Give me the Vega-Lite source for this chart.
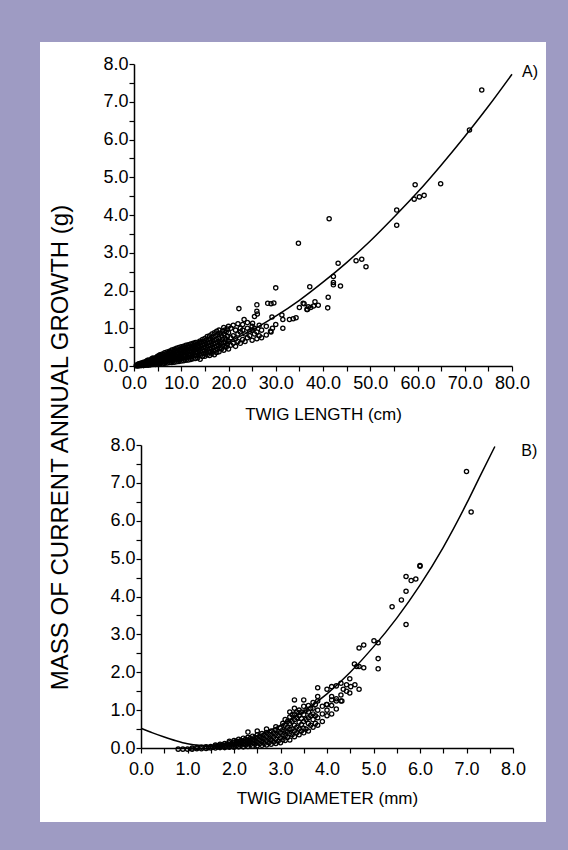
{
"$schema": "https://vega.github.io/schema/vega-lite/v6.json",
"background": "#9e9bc3",
"padding": {"left": 40, "top": 42, "right": 22, "bottom": 28},
"bounds": "flush",
"spacing": 0,
"config": {
 "view": {"fill": "white", "stroke": null},
 "font": "Liberation Sans",
 "axis": {"domainColor": "black", "domainWidth": 1.5, "tickColor": "black", "tickWidth": 1.2, "tickSize": 5, "labelColor": "black", "labelFontSize": 18, "labelFont": "Liberation Sans", "titleColor": "black", "titleFontSize": 17, "titleFont": "Liberation Sans", "titleFontWeight": "normal", "grid": false, "labelOverlap": false, "labelFlush": false}
},
"datasets": {
 "a": [
  {"x":0.5,"y":0},{"x":0.5,"y":0.02},
  {"x":1,"y":0},{"x":1,"y":0.03},{"x":1,"y":0.06},
  {"x":1.5,"y":0.01},{"x":1.5,"y":0.04},{"x":1.5,"y":0.08},
  {"x":2,"y":0.01},{"x":2,"y":0.05},{"x":2,"y":0.1},
  {"x":2.5,"y":0.02},{"x":2.5,"y":0.06},{"x":2.5,"y":0.12},
  {"x":3,"y":0.02},{"x":3,"y":0.07},{"x":3,"y":0.13},{"x":3,"y":0.16},
  {"x":3.5,"y":0.03},{"x":3.5,"y":0.08},{"x":3.5,"y":0.15},
  {"x":4,"y":0.04},{"x":4,"y":0.1},{"x":4,"y":0.17},{"x":4,"y":0.21},
  {"x":4.5,"y":0.04},{"x":4.5,"y":0.11},{"x":4.5,"y":0.19},
  {"x":5,"y":0.05},{"x":5,"y":0.12},{"x":5,"y":0.2},{"x":5,"y":0.26},
  {"x":5.5,"y":0.06},{"x":5.5,"y":0.13},{"x":5.5,"y":0.22},{"x":5.5,"y":0.3},
  {"x":6,"y":0.06},{"x":6,"y":0.15},{"x":6,"y":0.24},{"x":6,"y":0.32},
  {"x":6.5,"y":0.07},{"x":6.5,"y":0.16},{"x":6.5,"y":0.26},{"x":6.5,"y":0.35},
  {"x":7,"y":0.08},{"x":7,"y":0.17},{"x":7,"y":0.27},{"x":7,"y":0.37},
  {"x":7.5,"y":0.09},{"x":7.5,"y":0.19},{"x":7.5,"y":0.29},{"x":7.5,"y":0.39},
  {"x":8,"y":0.09},{"x":8,"y":0.2},{"x":8,"y":0.31},{"x":8,"y":0.42},
  {"x":8.5,"y":0.1},{"x":8.5,"y":0.21},{"x":8.5,"y":0.33},{"x":8.5,"y":0.44},
  {"x":9,"y":0.11},{"x":9,"y":0.23},{"x":9,"y":0.35},{"x":9,"y":0.47},
  {"x":9.5,"y":0.12},{"x":9.5,"y":0.24},{"x":9.5,"y":0.36},{"x":9.5,"y":0.49},
  {"x":10,"y":0.13},{"x":10,"y":0.25},{"x":10,"y":0.38},{"x":10,"y":0.51},
  {"x":10.5,"y":0.14},{"x":10.5,"y":0.27},{"x":10.5,"y":0.4},{"x":10.5,"y":0.52},
  {"x":11,"y":0.15},{"x":11,"y":0.28},{"x":11,"y":0.42},{"x":11,"y":0.55},
  {"x":11.5,"y":0.16},{"x":11.5,"y":0.3},{"x":11.5,"y":0.43},{"x":11.5,"y":0.56},
  {"x":12,"y":0.17},{"x":12,"y":0.31},{"x":12,"y":0.45},{"x":12,"y":0.58},
  {"x":12.5,"y":0.19},{"x":12.5,"y":0.33},{"x":12.5,"y":0.47},{"x":12.5,"y":0.6},
  {"x":13,"y":0.2},{"x":13,"y":0.35},{"x":13,"y":0.49},{"x":13,"y":0.62},
  {"x":13.5,"y":0.22},{"x":13.5,"y":0.36},{"x":13.5,"y":0.5},{"x":13.5,"y":0.63},
  {"x":14,"y":0.18},{"x":14,"y":0.38},{"x":14,"y":0.52},{"x":14,"y":0.66},
  {"x":14.5,"y":0.25},{"x":14.5,"y":0.4},{"x":14.5,"y":0.55},{"x":14.5,"y":0.7},
  {"x":15,"y":0.26},{"x":15,"y":0.41},{"x":15,"y":0.57},{"x":15,"y":0.73},
  {"x":15.5,"y":0.3},{"x":15.5,"y":0.44},{"x":15.5,"y":0.6},{"x":15.5,"y":0.78},
  {"x":16,"y":0.28},{"x":16,"y":0.46},{"x":16,"y":0.62},{"x":16,"y":0.8},
  {"x":16.5,"y":0.33},{"x":16.5,"y":0.48},{"x":16.5,"y":0.65},{"x":16.5,"y":0.85},
  {"x":17,"y":0.3},{"x":17,"y":0.5},{"x":17,"y":0.68},{"x":17,"y":0.88},
  {"x":17.5,"y":0.36},{"x":17.5,"y":0.53},{"x":17.5,"y":0.7},{"x":17.5,"y":0.92},
  {"x":18,"y":0.38},{"x":18,"y":0.55},{"x":18,"y":0.74},{"x":18,"y":0.95},
  {"x":18.5,"y":0.45},{"x":18.5,"y":0.6},{"x":18.5,"y":0.8},
  {"x":19,"y":0.42},{"x":19,"y":0.62},{"x":19,"y":0.85},{"x":19,"y":1.02},
  {"x":19.5,"y":0.5},{"x":19.5,"y":0.7},{"x":19.5,"y":0.9},
  {"x":20,"y":0.45},{"x":20,"y":0.65},{"x":20,"y":0.88},{"x":20,"y":1.05},
  {"x":0.75,"y":0.01},{"x":0.75,"y":0.04},{"x":1.25,"y":0.02},{"x":1.25,"y":0.05},{"x":1.75,"y":0.03},{"x":1.75,"y":0.07},{"x":2.25,"y":0.03},{"x":2.25,"y":0.08},
  {"x":2.75,"y":0.04},{"x":2.75,"y":0.1},{"x":2.75,"y":0.14},{"x":3.25,"y":0.05},{"x":3.25,"y":0.11},
  {"x":3.75,"y":0.06},{"x":3.75,"y":0.13},{"x":3.75,"y":0.19},{"x":4.25,"y":0.07},{"x":4.25,"y":0.14},{"x":4.25,"y":0.2},
  {"x":4.75,"y":0.08},{"x":4.75,"y":0.16},{"x":4.75,"y":0.23},{"x":5.25,"y":0.09},{"x":5.25,"y":0.17},{"x":5.25,"y":0.27},
  {"x":5.75,"y":0.1},{"x":5.75,"y":0.19},{"x":5.75,"y":0.28},{"x":6.25,"y":0.11},{"x":6.25,"y":0.2},{"x":6.25,"y":0.3},
  {"x":6.75,"y":0.12},{"x":6.75,"y":0.22},{"x":6.75,"y":0.32},{"x":7.25,"y":0.13},{"x":7.25,"y":0.23},{"x":7.25,"y":0.33},
  {"x":7.75,"y":0.14},{"x":7.75,"y":0.25},{"x":7.75,"y":0.36},{"x":8.25,"y":0.15},{"x":8.25,"y":0.27},{"x":8.25,"y":0.38},
  {"x":8.75,"y":0.16},{"x":8.75,"y":0.28},{"x":8.75,"y":0.4},{"x":9.25,"y":0.17},{"x":9.25,"y":0.3},{"x":9.25,"y":0.42},
  {"x":9.75,"y":0.18},{"x":9.75,"y":0.31},{"x":9.75,"y":0.44},{"x":10.25,"y":0.2},{"x":10.25,"y":0.33},{"x":10.25,"y":0.46},
  {"x":10.75,"y":0.21},{"x":10.75,"y":0.35},{"x":10.75,"y":0.48},{"x":11.25,"y":0.22},{"x":11.25,"y":0.36},{"x":11.25,"y":0.5},
  {"x":11.75,"y":0.24},{"x":11.75,"y":0.38},{"x":11.75,"y":0.51},{"x":12.25,"y":0.25},{"x":12.25,"y":0.39},{"x":12.25,"y":0.53},
  {"x":12.75,"y":0.27},{"x":12.75,"y":0.41},{"x":12.75,"y":0.55},{"x":13.25,"y":0.28},{"x":13.25,"y":0.43},{"x":13.25,"y":0.57},
  {"x":13.75,"y":0.3},{"x":13.75,"y":0.45},{"x":13.75,"y":0.6},{"x":14.25,"y":0.32},{"x":14.25,"y":0.47},{"x":14.25,"y":0.62},
  {"x":14.75,"y":0.33},{"x":14.75,"y":0.49},{"x":14.75,"y":0.65},{"x":15.25,"y":0.35},{"x":15.25,"y":0.5},{"x":15.25,"y":0.67},
  {"x":15.75,"y":0.37},{"x":15.75,"y":0.53},{"x":15.75,"y":0.7},{"x":16.25,"y":0.38},{"x":16.25,"y":0.55},{"x":16.25,"y":0.72},
  {"x":16.75,"y":0.4},{"x":16.75,"y":0.58},{"x":16.75,"y":0.76},{"x":17.25,"y":0.42},{"x":17.25,"y":0.6},{"x":17.25,"y":0.8},
  {"x":17.75,"y":0.45},{"x":17.75,"y":0.63},{"x":17.75,"y":0.83},{"x":18.25,"y":0.48},{"x":18.25,"y":0.66},{"x":18.25,"y":0.87},
  {"x":18.75,"y":0.52},{"x":18.75,"y":0.7},{"x":18.75,"y":0.92},{"x":19.25,"y":0.55},{"x":19.25,"y":0.74},{"x":19.25,"y":0.95},
  {"x":19.75,"y":0.58},{"x":19.75,"y":0.78},{"x":19.75,"y":0.98},
  {"x":20.5,"y":0.55},{"x":20.5,"y":0.75},{"x":20.5,"y":1.0},
  {"x":21,"y":0.6},{"x":21,"y":0.8},{"x":21,"y":1.08},
  {"x":21.5,"y":0.52},{"x":21.5,"y":0.72},{"x":21.5,"y":0.95},
  {"x":22,"y":0.65},{"x":22,"y":0.85},{"x":22,"y":1.12},
  {"x":22.5,"y":0.6},{"x":22.5,"y":0.9},{"x":22.5,"y":1.0},
  {"x":23,"y":0.7},{"x":23,"y":0.95},{"x":23,"y":1.1},
  {"x":23.5,"y":0.65},{"x":23.5,"y":0.85},
  {"x":24,"y":0.75},{"x":24,"y":1.0},{"x":24,"y":1.15},
  {"x":24.5,"y":0.8},{"x":24.5,"y":0.92},
  {"x":25,"y":0.68},{"x":25,"y":0.95},{"x":25,"y":1.05},
  {"x":25.5,"y":0.85},{"x":25.5,"y":1.0},
  {"x":26,"y":0.72},{"x":26,"y":0.9},
  {"x":26.5,"y":0.8},{"x":26.5,"y":1.08},
  {"x":27,"y":0.75},{"x":27,"y":0.95},
  {"x":28,"y":0.82},{"x":28,"y":1.05},
  {"x":29,"y":0.9},{"x":30,"y":1.1},
  {"x":34.8,"y":3.25},{"x":30.0,"y":2.07},{"x":22.2,"y":1.52},{"x":26.0,"y":1.62},{"x":28.3,"y":1.66},{"x":29.0,"y":1.65},{"x":29.6,"y":1.67},{"x":26.0,"y":1.45},{"x":26.1,"y":1.38},{"x":29.2,"y":1.3},{"x":31.3,"y":1.35},{"x":31.5,"y":1.23},{"x":31.5,"y":1.0},{"x":32.9,"y":1.23},{"x":33.7,"y":1.25},{"x":34.3,"y":1.28},{"x":35.0,"y":1.55},{"x":36.0,"y":1.65},{"x":36.7,"y":1.5},{"x":37.4,"y":1.55},{"x":23.3,"y":1.23},{"x":25.1,"y":1.13},{"x":25.5,"y":1.31},{"x":29.3,"y":1.0},{"x":28.9,"y":0.92},
  {"x":73.6,"y":7.31},{"x":71.0,"y":6.25},{"x":59.5,"y":4.8},{"x":64.9,"y":4.83},{"x":59.3,"y":4.42},{"x":60.4,"y":4.48},{"x":61.4,"y":4.52},{"x":55.6,"y":4.13},{"x":55.6,"y":3.73},{"x":41.3,"y":3.9},{"x":43.2,"y":2.72},{"x":47.0,"y":2.79},{"x":48.2,"y":2.83},{"x":49.1,"y":2.63},{"x":42.2,"y":2.37},{"x":42.2,"y":2.21},{"x":42.2,"y":2.15},{"x":43.7,"y":2.12},{"x":37.2,"y":2.1},{"x":41.1,"y":1.82},{"x":41.0,"y":1.54},{"x":35.8,"y":1.66},{"x":36.9,"y":1.57},{"x":38.0,"y":1.59},{"x":38.3,"y":1.7},{"x":39.0,"y":1.61},{"x":36.6,"y":1.5}
 ],
 "fa": [
  {"x":0,"y":0},{"x":2,"y":0.01},{"x":5,"y":0.05},{"x":10,"y":0.18},{"x":15,"y":0.38},{"x":20,"y":0.64},{"x":25,"y":0.95},{"x":30,"y":1.32},{"x":35,"y":1.74},{"x":40,"y":2.22},{"x":45,"y":2.74},{"x":50,"y":3.31},{"x":55,"y":3.94},{"x":60,"y":4.6},{"x":65,"y":5.32},{"x":70,"y":6.08},{"x":75,"y":6.88},{"x":80,"y":7.73}
 ],
 "b": [
  {"x":0.8,"y":-0.03},{"x":0.9,"y":-0.03},{"x":1.0,"y":-0.03},
  {"x":1.1,"y":-0.03},{"x":1.1,"y":0.0},
  {"x":1.2,"y":-0.02},{"x":1.2,"y":0.01},
  {"x":1.3,"y":-0.02},{"x":1.3,"y":0.02},
  {"x":1.4,"y":-0.01},{"x":1.4,"y":0.03},
  {"x":1.5,"y":0.0},{"x":1.5,"y":0.04},
  {"x":1.6,"y":0.0},{"x":1.6,"y":0.05},{"x":1.6,"y":0.08},
  {"x":1.7,"y":0.01},{"x":1.7,"y":0.06},{"x":1.7,"y":0.1},
  {"x":1.8,"y":0.01},{"x":1.8,"y":0.07},{"x":1.8,"y":0.12},
  {"x":1.9,"y":0.02},{"x":1.9,"y":0.08},{"x":1.9,"y":0.14},{"x":1.9,"y":0.18},
  {"x":2.0,"y":0.02},{"x":2.0,"y":0.09},{"x":2.0,"y":0.15},{"x":2.0,"y":0.2},
  {"x":2.1,"y":0.03},{"x":2.1,"y":0.1},{"x":2.1,"y":0.17},{"x":2.1,"y":0.23},
  {"x":2.2,"y":0.03},{"x":2.2,"y":0.11},{"x":2.2,"y":0.19},{"x":2.2,"y":0.26},
  {"x":2.3,"y":0.04},{"x":2.3,"y":0.12},{"x":2.3,"y":0.2},{"x":2.3,"y":0.28},{"x":2.3,"y":0.42},
  {"x":2.4,"y":0.05},{"x":2.4,"y":0.14},{"x":2.4,"y":0.22},{"x":2.4,"y":0.31},
  {"x":2.5,"y":0.06},{"x":2.5,"y":0.15},{"x":2.5,"y":0.25},{"x":2.5,"y":0.35},{"x":2.5,"y":0.45},
  {"x":2.6,"y":0.07},{"x":2.6,"y":0.17},{"x":2.6,"y":0.27},{"x":2.6,"y":0.38},
  {"x":2.7,"y":0.08},{"x":2.7,"y":0.19},{"x":2.7,"y":0.3},{"x":2.7,"y":0.41},{"x":2.7,"y":0.5},
  {"x":2.8,"y":0.1},{"x":2.8,"y":0.21},{"x":2.8,"y":0.33},{"x":2.8,"y":0.45},
  {"x":2.9,"y":0.12},{"x":2.9,"y":0.24},{"x":2.9,"y":0.36},{"x":2.9,"y":0.48},{"x":2.9,"y":0.56},
  {"x":3.0,"y":0.14},{"x":3.0,"y":0.27},{"x":3.0,"y":0.4},{"x":3.0,"y":0.52},
  {"x":3.1,"y":0.2},{"x":3.1,"y":0.32},{"x":3.1,"y":0.45},{"x":3.1,"y":0.6},{"x":3.1,"y":0.75},
  {"x":3.2,"y":0.21},{"x":3.2,"y":0.38},{"x":3.2,"y":0.5},{"x":3.2,"y":0.65},{"x":3.2,"y":0.82},{"x":3.2,"y":0.95},
  {"x":3.3,"y":0.3},{"x":3.3,"y":0.45},{"x":3.3,"y":0.6},{"x":3.3,"y":0.75},{"x":3.3,"y":0.9},{"x":3.3,"y":1.05},{"x":3.3,"y":1.27},
  {"x":3.4,"y":0.35},{"x":3.4,"y":0.5},{"x":3.4,"y":0.68},{"x":3.4,"y":0.85},{"x":3.4,"y":1.0},
  {"x":3.5,"y":0.4},{"x":3.5,"y":0.52},{"x":3.5,"y":0.7},{"x":3.5,"y":0.88},{"x":3.5,"y":1.1},{"x":3.5,"y":1.27},
  {"x":3.6,"y":0.45},{"x":3.6,"y":0.65},{"x":3.6,"y":0.8},{"x":3.6,"y":0.95},{"x":3.6,"y":1.12},
  {"x":3.7,"y":0.55},{"x":3.7,"y":0.75},{"x":3.7,"y":0.9},{"x":3.7,"y":1.05},{"x":3.7,"y":1.2},
  {"x":3.8,"y":0.6},{"x":3.8,"y":0.8},{"x":3.8,"y":1.0},{"x":3.8,"y":1.24},{"x":3.8,"y":1.36},{"x":3.8,"y":1.59},
  {"x":3.9,"y":0.7},{"x":3.9,"y":0.9},{"x":3.9,"y":1.1},
  {"x":4.0,"y":0.85},{"x":4.0,"y":1.0},{"x":4.0,"y":1.15},{"x":4.0,"y":1.55},
  {"x":4.1,"y":0.9},{"x":4.1,"y":1.12},{"x":4.1,"y":1.27},{"x":4.1,"y":1.36},{"x":4.1,"y":1.62},
  {"x":4.2,"y":1.03},{"x":4.2,"y":1.24},{"x":4.2,"y":1.3},{"x":4.2,"y":1.64},
  {"x":4.3,"y":1.24},{"x":4.3,"y":1.4},{"x":4.3,"y":1.71},
  {"x":1.45,"y":0.01},{"x":1.55,"y":0.02},{"x":1.65,"y":0.03},{"x":1.65,"y":0.06},{"x":1.75,"y":0.04},{"x":1.75,"y":0.08},
  {"x":1.85,"y":0.04},{"x":1.85,"y":0.1},{"x":1.95,"y":0.05},{"x":1.95,"y":0.12},
  {"x":2.05,"y":0.06},{"x":2.05,"y":0.13},{"x":2.05,"y":0.18},{"x":2.15,"y":0.07},{"x":2.15,"y":0.14},{"x":2.15,"y":0.2},
  {"x":2.25,"y":0.08},{"x":2.25,"y":0.16},{"x":2.25,"y":0.23},{"x":2.35,"y":0.09},{"x":2.35,"y":0.17},{"x":2.35,"y":0.25},
  {"x":2.45,"y":0.1},{"x":2.45,"y":0.2},{"x":2.45,"y":0.28},{"x":2.55,"y":0.11},{"x":2.55,"y":0.21},{"x":2.55,"y":0.31},
  {"x":2.65,"y":0.12},{"x":2.65,"y":0.23},{"x":2.65,"y":0.34},{"x":2.75,"y":0.14},{"x":2.75,"y":0.25},{"x":2.75,"y":0.36},
  {"x":2.85,"y":0.16},{"x":2.85,"y":0.28},{"x":2.85,"y":0.4},{"x":2.95,"y":0.18},{"x":2.95,"y":0.32},{"x":2.95,"y":0.44},
  {"x":3.05,"y":0.22},{"x":3.05,"y":0.35},{"x":3.05,"y":0.48},{"x":3.05,"y":0.65},
  {"x":3.15,"y":0.28},{"x":3.15,"y":0.42},{"x":3.15,"y":0.55},{"x":3.15,"y":0.7},
  {"x":3.25,"y":0.35},{"x":3.25,"y":0.5},{"x":3.25,"y":0.7},{"x":3.25,"y":0.88},
  {"x":3.35,"y":0.4},{"x":3.35,"y":0.55},{"x":3.35,"y":0.8},{"x":3.35,"y":0.95},
  {"x":3.45,"y":0.45},{"x":3.45,"y":0.62},{"x":3.45,"y":0.78},{"x":3.45,"y":0.95},
  {"x":3.55,"y":0.5},{"x":3.55,"y":0.75},{"x":3.55,"y":1.0},{"x":3.65,"y":0.6},{"x":3.65,"y":0.85},{"x":3.65,"y":1.05},
  {"x":3.75,"y":0.65},{"x":3.75,"y":0.85},{"x":3.75,"y":1.15},
  {"x":7.0,"y":7.3},{"x":7.1,"y":6.23},{"x":6.0,"y":4.82},{"x":6.0,"y":4.8},{"x":5.7,"y":4.53},{"x":5.81,"y":4.42},{"x":5.91,"y":4.46},{"x":5.7,"y":4.14},{"x":5.6,"y":3.91},{"x":5.4,"y":3.73},{"x":5.7,"y":3.26},{"x":5.01,"y":2.83},{"x":5.1,"y":2.78},{"x":4.69,"y":2.64},{"x":4.79,"y":2.72},{"x":5.1,"y":2.36},{"x":5.1,"y":2.09},{"x":4.59,"y":2.22},{"x":4.64,"y":2.15},{"x":4.69,"y":2.15},{"x":4.79,"y":2.12},{"x":4.49,"y":1.83},{"x":4.42,"y":1.67},{"x":4.51,"y":1.62},{"x":4.6,"y":1.67},{"x":4.49,"y":1.45},{"x":4.69,"y":1.55},{"x":4.35,"y":1.55},{"x":4.42,"y":1.5},{"x":3.99,"y":1.15},{"x":4.32,"y":1.24}
 ],
 "fb": [
  {"x":0,"y":0.52},{"x":0.25,"y":0.4},{"x":0.5,"y":0.29},{"x":0.75,"y":0.19},{"x":1.0,"y":0.11},{"x":1.25,"y":0.07},{"x":1.5,"y":0.06},{"x":1.75,"y":0.08},{"x":2.0,"y":0.14},{"x":2.25,"y":0.22},{"x":2.5,"y":0.32},{"x":2.75,"y":0.45},{"x":3.0,"y":0.6},{"x":3.5,"y":0.97},{"x":4.0,"y":1.43},{"x":4.5,"y":2.0},{"x":5.0,"y":2.67},{"x":5.5,"y":3.43},{"x":6.0,"y":4.3},{"x":6.5,"y":5.3},{"x":7.0,"y":6.45},{"x":7.3,"y":7.2},{"x":7.61,"y":7.96}
 ]
},
"vconcat": [
 {
  "width": 506, "height": 390,
  "encoding": {
   "x": {"field": "x", "type": "quantitative", "scale": {"domain": [0, 80], "range": [94, 472], "nice": false, "zero": false},
         "axis": {"title": "TWIG LENGTH (cm)", "values": [0,5,10,15,20,25,30,35,40,45,50,55,60,65,70,75,80], "labelExpr": "datum.value % 10 === 0 ? format(datum.value, '.1f') : ''", "offset": -66, "labelPadding": 3, "titlePadding": 14}},
   "y": {"field": "y", "type": "quantitative", "scale": {"domain": [0, 8], "range": [324, 22], "nice": false, "zero": false},
         "axis": {"title": null, "values": [0,0.5,1,1.5,2,2.5,3,3.5,4,4.5,5,5.5,6,6.5,7,7.5,8], "labelExpr": "datum.value % 1 === 0 ? format(datum.value, '.1f') : ''", "offset": -94, "labelPadding": 1}}
  },
  "layer": [
   {"data": {"name": "a"}, "mark": {"type": "point", "shape": "circle", "filled": false, "size": 18, "strokeWidth": 1.3, "color": "black", "opacity": 1}},
   {"data": {"name": "fa"}, "mark": {"type": "line", "color": "black", "strokeWidth": 1.5, "interpolate": "monotone"}},
   {"data": {"values": [{"t": "A)", "x": 83.8, "y": 7.79}]}, "mark": {"type": "text", "fontSize": 16, "align": "center", "baseline": "middle", "color": "black"}, "encoding": {"text": {"field": "t"}}}
  ]
 },
 {
  "width": 506, "height": 390,
  "encoding": {
   "x": {"field": "x", "type": "quantitative", "scale": {"domain": [0, 8], "range": [101, 473], "nice": false, "zero": false},
         "axis": {"title": "TWIG DIAMETER (mm)", "values": [0,0.5,1,1.5,2,2.5,3,3.5,4,4.5,5,5.5,6,6.5,7,7.5,8], "labelExpr": "datum.value % 1 === 0 ? format(datum.value, '.1f') : ''", "offset": -74, "labelPadding": 7, "titlePadding": 12}},
   "y": {"field": "y", "type": "quantitative", "scale": {"domain": [0, 8], "range": [316, 13], "nice": false, "zero": false},
         "axis": {"title": "MASS OF CURRENT ANNUAL GROWTH (g)", "titleFontSize": 24, "titleX": -81, "titleY": 15, "titleAngle": -90, "titleAlign": "center", "titleBaseline": "middle", "values": [0,0.5,1,1.5,2,2.5,3,3.5,4,4.5,5,5.5,6,6.5,7,7.5,8], "labelExpr": "datum.value % 1 === 0 ? format(datum.value, '.1f') : ''", "offset": -101, "labelPadding": 1}}
  },
  "layer": [
   {"data": {"name": "b"}, "mark": {"type": "point", "shape": "circle", "filled": false, "size": 18, "strokeWidth": 1.3, "color": "black", "opacity": 1}},
   {"data": {"name": "fb"}, "mark": {"type": "line", "color": "black", "strokeWidth": 1.5, "interpolate": "monotone"}},
   {"data": {"values": [{"t": "B)", "x": 8.35, "y": 7.85}]}, "mark": {"type": "text", "fontSize": 16, "align": "center", "baseline": "middle", "color": "black"}, "encoding": {"text": {"field": "t"}}}
  ]
 }
]
}
